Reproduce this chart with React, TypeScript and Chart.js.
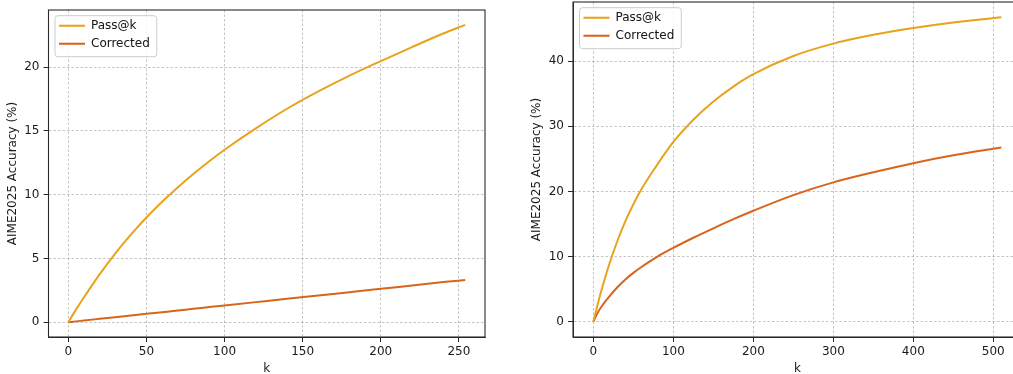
import React, { useEffect, useRef } from 'react';
import { Chart, registerables } from 'chart.js';

Chart.register(...registerables);

const seriesNames = ['Pass@k', 'Corrected'];
const xAxisTitle = 'k';
const yAxisTitle = 'AIME2025 Accuracy (%)';

// Left panel (k up to 254)
const kLeft = [0, 5, 10, 20, 30, 40, 50, 60, 70, 80, 90, 100, 120, 140, 160, 180, 200, 220, 240, 254];
const passLeft = [0, 1.0, 1.95, 3.75, 5.38, 6.86, 8.21, 9.44, 10.57, 11.62, 12.6, 13.52, 15.2, 16.74, 18.1, 19.34, 20.48, 21.58, 22.64, 23.32];
const corrLeft = [0, 0.06, 0.13, 0.26, 0.39, 0.52, 0.65, 0.78, 0.91, 1.05, 1.18, 1.31, 1.57, 1.83, 2.09, 2.35, 2.61, 2.88, 3.14, 3.31];

// Right panel (k up to 510)
const kRight = [0, 5, 10, 20, 30, 40, 50, 60, 80, 100, 125, 150, 175, 200, 250, 300, 350, 400, 450, 510];
const passRight = [0, 2.5, 4.8, 8.9, 12.4, 15.45, 18.05, 20.35, 24.15, 27.6, 31.0, 33.8, 36.1, 38.0, 40.8, 42.7, 44.05, 45.1, 45.95, 46.75];
const corrRight = [0, 1.3, 2.3, 3.9, 5.3, 6.5, 7.5, 8.4, 10.0, 11.35, 12.9, 14.35, 15.75, 17.05, 19.45, 21.4, 22.95, 24.35, 25.55, 26.74];

const leftXStep = 50;
const leftYStep = 5;
const rightXStep = 100;
const rightYStep = 10;

const FONT = "'DejaVu Sans', 'Liberation Sans', sans-serif";
const FONT_SIZE = 12;
const PASS_COLOR = '#E8A31C';
const CORR_COLOR = '#D9641C';
const TEXT_COLOR = '#1a1a1a';
const SPINE_COLOR = '#2a2a2a';

function paddedRange(values: number[]): [number, number] {
  const mn = Math.min(...values);
  const mx = Math.max(...values);
  const m = (mx - mn) * 0.05;
  return [mn - m, mx + m];
}

const mplPlugin = {
  id: 'mplLook',
  afterLayout(chart: any) {
    const lg = chart.legend;
    const a = chart.chartArea;
    if (lg && a) {
      const w = lg.width;
      const h = lg.height;
      lg.left = a.left + 4.5;
      lg.top = a.top + 3.7;
      lg.right = lg.left + w;
      lg.bottom = lg.top + h;
    }
  },
  afterDatasetsDraw(chart: any) {
    const lg = chart.legend;
    const ctx = chart.ctx;
    if (lg && lg.legendHitBoxes && lg.legendHitBoxes.length) {
      let maxW = 0;
      lg.legendHitBoxes.forEach((hb: any) => { maxW = Math.max(maxW, hb.width); });
      const x0 = lg.left + 2;
      const y0 = lg.top + 2;
      const x1 = lg.left + 6 + maxW + 7;
      const y1 = lg.top + 43;
      ctx.save();
      ctx.beginPath();
      if ((ctx as any).roundRect) {
        (ctx as any).roundRect(x0, y0, x1 - x0, y1 - y0, 3);
      } else {
        ctx.rect(x0, y0, x1 - x0, y1 - y0);
      }
      ctx.fillStyle = 'rgba(255,255,255,0.85)';
      ctx.fill();
      ctx.lineWidth = 1;
      ctx.strokeStyle = '#cccccc';
      ctx.stroke();
      ctx.restore();
      lg.draw(chart.chartArea);
    }
  },
  afterDraw(chart: any) {
    const a = chart.chartArea;
    const ctx = chart.ctx;
    ctx.save();
    ctx.strokeStyle = SPINE_COLOR;
    ctx.lineWidth = 1.1;
    ctx.strokeRect(a.left, a.top, a.right - a.left, a.bottom - a.top);
    ctx.restore();
  },
};

function makeConfig(
  k: number[], pass: number[], corr: number[], xStep: number, yStep: number,
  pad: { left: number; right: number; top: number; bottom: number }, yAxisWidth: number,
): any {
  const [xMin, xMax] = paddedRange(k);
  const [yMin, yMax] = paddedRange([...pass, ...corr]);
  const gridCommon = {
    color: 'rgba(120,120,120,0.55)',
    lineWidth: 0.8,
    drawTicks: true,
    tickLength: 5,
    tickColor: SPINE_COLOR,
    tickWidth: 1,
    tickBorderDash: [],
  };
  const borderCommon = { display: true, color: SPINE_COLOR, width: 1, dash: [2.5, 2] };
  return {
    type: 'line',
    data: {
      datasets: [
        {
          label: seriesNames[0],
          data: k.map((x, i) => ({ x, y: pass[i] })),
          borderColor: PASS_COLOR,
          backgroundColor: PASS_COLOR,
          borderWidth: 2,
          pointRadius: 0,
          cubicInterpolationMode: 'monotone',
          fill: false,
        },
        {
          label: seriesNames[1],
          data: k.map((x, i) => ({ x, y: corr[i] })),
          borderColor: CORR_COLOR,
          backgroundColor: CORR_COLOR,
          borderWidth: 2,
          pointRadius: 0,
          cubicInterpolationMode: 'monotone',
          fill: false,
        },
      ],
    },
    options: {
      responsive: false,
      animation: false,
      devicePixelRatio: 1,
      layout: { padding: pad },
      plugins: {
        title: { display: false },
        tooltip: { enabled: false },
        legend: {
          display: true,
          position: 'chartArea',
          align: 'start',
          labels: {
            usePointStyle: true,
            pointStyle: 'line',
            pointStyleWidth: 26,
            boxHeight: FONT_SIZE,
            padding: 6,
            color: TEXT_COLOR,
            font: { family: FONT, size: FONT_SIZE },
          },
        },
      },
      scales: {
        x: {
          type: 'linear',
          min: xMin,
          max: xMax,
          grid: gridCommon,
          border: borderCommon,
          ticks: {
            stepSize: xStep,
            includeBounds: false,
            color: TEXT_COLOR,
            padding: 3,
            maxRotation: 0,
            font: { family: FONT, size: FONT_SIZE },
          },
          title: {
            display: true,
            text: xAxisTitle,
            color: TEXT_COLOR,
            font: { family: FONT, size: FONT_SIZE },
            padding: { top: 0, bottom: -2 },
          },
          afterFit: (s: any) => { s.height = 37; s.paddingLeft = 0; s.paddingRight = 0; },
        },
        y: {
          type: 'linear',
          min: yMin,
          max: yMax,
          grid: gridCommon,
          border: borderCommon,
          ticks: {
            stepSize: yStep,
            includeBounds: false,
            color: TEXT_COLOR,
            padding: 4,
            font: { family: FONT, size: FONT_SIZE },
          },
          title: {
            display: true,
            text: yAxisTitle,
            color: TEXT_COLOR,
            font: { family: FONT, size: FONT_SIZE },
            padding: { top: 6, bottom: 0 },
          },
          afterFit: (s: any) => { s.width = yAxisWidth; s.paddingTop = 0; s.paddingBottom = 0; },
        },
      },
    },
    plugins: [mplPlugin],
  };
}

function Panel(props: { left: number; width: number; cfg: () => any }) {
  const ref = useRef<HTMLCanvasElement | null>(null);
  useEffect(() => {
    if (!ref.current) return;
    const chart = new Chart(ref.current, props.cfg());
    return () => chart.destroy();
  }, []);
  return (
    <canvas
      ref={ref}
      width={props.width}
      height={374}
      style={{ position: 'absolute', left: props.left, top: 0, width: props.width, height: 374, display: 'block' }}
    />
  );
}

export default function App() {
  return (
    <div style={{ position: 'absolute', left: 0, top: 0, width: 1013, height: 374, overflow: 'hidden', background: '#ffffff' }}>
      <Panel
        left={0}
        width={487}
        cfg={() => makeConfig(kLeft, passLeft, corrLeft, leftXStep, leftYStep, { left: 0, right: 2, top: 10, bottom: 0 }, 48.5)}
      />
      <Panel
        left={524}
        width={500}
        cfg={() => makeConfig(kRight, passRight, corrRight, rightXStep, rightYStep, { left: 0, right: 2.3, top: 2, bottom: 0 }, 49)}
      />
    </div>
  );
}
